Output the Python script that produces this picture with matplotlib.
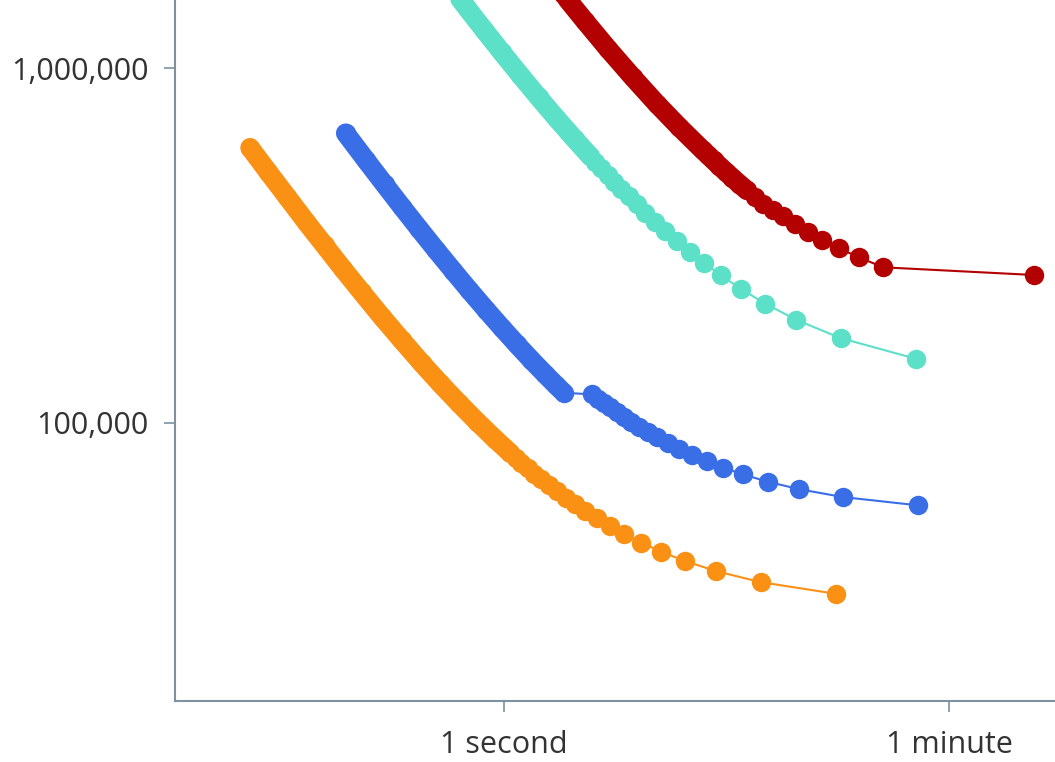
import matplotlib
matplotlib.use("Agg")
import matplotlib.pyplot as plt
from matplotlib.ticker import FixedLocator, FixedFormatter, NullLocator

# ---- data ----
# durations in seconds, throughput values
orange_t = [21.21, 10.61, 7.07, 5.30, 4.24, 3.54, 3.03, 2.65, 2.36, 2.12,
            1.93, 1.77, 1.63, 1.515, 1.414, 1.326, 1.248, 1.178, 1.116, 1.06,
            0.922, 0.786, 0.663, 0.558, 0.471, 0.393, 0.326, 0.272, 0.228,
            0.193, 0.163, 0.137, 0.1146, 0.0973]
orange_v = [32900, 35500, 38100, 40700, 43300, 45900, 48500, 51100, 53700, 56300,
            58900, 61500, 64100, 66700, 69300, 71900, 74500, 77100, 79700, 82300,
            90100, 100500, 113500, 129100, 147300, 170700, 199300, 233100, 272100,
            316300, 368300, 433300, 511300, 597100]
orange_dense_from = 19

blue_t = [45.2, 22.6, 15.07, 11.3, 9.04, 7.53, 6.46, 5.65, 5.02, 4.52,
          4.11, 3.77, 3.48, 3.23, 3.01, 2.825, 2.66, 2.51, 2.38, 2.26,
          1.738, 1.614, 1.458, 1.291, 1.13, 0.983, 0.853, 0.729, 0.628,
          0.538, 0.461, 0.393, 0.335, 0.2825, 0.2342]
blue_v = [58450, 61700, 64950, 68200, 71450, 74700, 77950, 81200, 84450, 87700,
          90950, 94200, 97450, 100700, 103950, 107200, 110450, 113700, 116950, 120200,
          121500, 127900, 137500, 150300, 166300, 185500, 207900, 236700, 268700,
          307100, 351900, 406300, 470300, 550300, 655900]
blue_dense_from = 20

teal_t = [44.2, 22.1, 14.73, 11.05, 8.84, 7.37, 6.31, 5.525, 4.91, 4.42,
          4.02, 3.68, 3.40, 3.16, 2.947, 2.7625, 2.60, 2.456, 2.326, 2.21,
          1.922, 1.637, 1.381, 1.163, 0.982, 0.834, 0.713, 0.614, 0.526]
teal_v = [151500, 173300, 195100, 216900, 238700, 260500, 282300, 304100, 325900, 347700,
          369500, 391300, 413100, 434900, 456700, 478500, 500300, 522100, 543900, 565700,
          631100, 718300, 827300, 958100, 1110700, 1285100, 1481300, 1699300, 1960900]
teal_dense_from = 19

red_t = [130.7, 32.68, 26.14, 21.78, 18.67, 16.34, 14.52, 13.07, 11.88, 10.89,
         10.05, 9.34, 8.71, 8.17, 7.69, 7.26, 6.88, 6.54,
         6.22, 5.03, 4.08, 3.27, 2.61, 2.11, 1.72, 1.45]
red_v = [261100, 274500, 293000, 310600, 328600, 346200, 364400, 383300, 398100, 414000,
         433400, 452800, 472200, 491600, 511000, 530400, 549800, 569200,
         588600, 682000, 795000, 945000, 1135000, 1360000, 1625000, 1895000]
red_dense_from = 11

series = [
    (orange_t, orange_v, orange_dense_from, "#FA9114"),
    (blue_t, blue_v, blue_dense_from, "#3A6EE6"),
    (teal_t, teal_v, teal_dense_from, "#5CE0C8"),
    (red_t, red_v, red_dense_from, "#B30000"),
]

x_ticks = [1, 60]
x_tick_labels = ["1 second", "1 minute"]
y_ticks = [100000, 1000000]
y_tick_labels = ["100,000", "1,000,000"]

# ---- figure ----
plt.rcParams['font.family'] = ['Open Sans', 'DejaVu Sans']
W, H = 1055, 762
fig = plt.figure(figsize=(W / 100, H / 100), dpi=100)
left_px, bottom_px = 174.7, 701.3
ax = fig.add_axes([left_px / W, (H - bottom_px) / H, (W - left_px) / W, bottom_px / H])
ax.set_xscale('log')
ax.set_yscale('log')
ax.set_xlim(0.0487, 158.6)
ax.set_ylim(16368, 1558600)

MS = 14
for t, v, d, c in series:
    ax.plot(t, v, color=c, lw=1.5, marker='o', ms=MS, mew=0, zorder=2)
    ax.plot(t[d:], v[d:], color=c, lw=MS, solid_capstyle='round',
            solid_joinstyle='round', zorder=3)

spine_c = '#7D919F'
for s in ['top', 'right']:
    ax.spines[s].set_visible(False)
for s in ['left', 'bottom']:
    ax.spines[s].set_color(spine_c)
    ax.spines[s].set_linewidth(1.5)

ax.xaxis.set_major_locator(FixedLocator(x_ticks))
ax.xaxis.set_major_formatter(FixedFormatter(x_tick_labels))
ax.xaxis.set_minor_locator(NullLocator())
ax.yaxis.set_major_locator(FixedLocator(y_ticks))
ax.yaxis.set_major_formatter(FixedFormatter(y_tick_labels))
ax.yaxis.set_minor_locator(NullLocator())
ax.tick_params(axis='both', which='major', length=8, width=1.2, color=spine_c,
               labelsize=22, labelcolor='#333333')
ax.tick_params(axis='x', pad=12.5)
ax.tick_params(axis='y', pad=11)

fig.savefig('out.png', dpi=100)
